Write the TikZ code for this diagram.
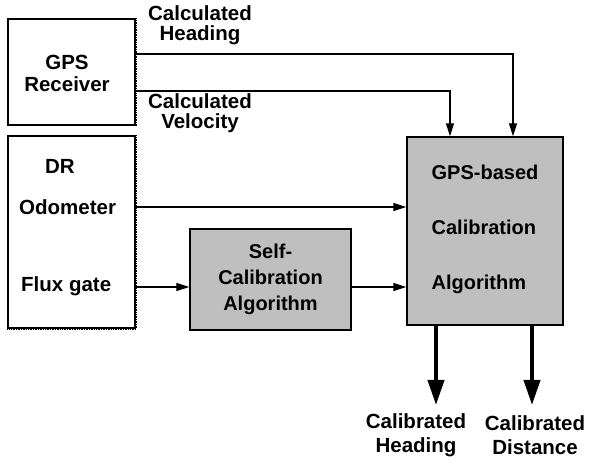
\documentclass[tikz,border=0pt]{standalone}
\usepackage{fontspec}
\setmainfont{Liberation Sans}
\usetikzlibrary{arrows.meta,calc}
\begin{document}
\begin{tikzpicture}[x=1pt,y=-1pt,
  lbl/.style={font=\bfseries\fontsize{20.5}{19.5}\selectfont, inner sep=0pt, align=center},
  whitebox/.style={draw, line width=1.2pt, fill=white, inner sep=0pt},
  shadebox/.style={draw, line width=1.4pt, fill=black!25, inner sep=0pt},
  shadowline/.style={line width=3pt, dash pattern=on 1pt off 0.7pt},
  arr/.style={line width=1.1pt, -{Triangle[length=13pt,width=8pt]}},
  bigarr/.style={line width=4pt, -{Triangle[length=25pt,width=16pt]}}
]
\useasboundingbox (0,0) rectangle (590,465);

% boxes
\node[whitebox, minimum width=127pt, minimum height=106pt] (gps) at (71.5,72) {};
\node[whitebox, minimum width=127pt, minimum height=192pt] (dr) at (71.5,232) {};
\draw[shadowline] (gps.north east) -- (gps.south east);
\draw[line width=1.8pt, dash pattern=on 1pt off 0.7pt] (gps.south west) -- (gps.south east);
\draw[shadowline] (dr.north east) -- (dr.south east);
\draw[line width=2pt, dash pattern=on 1pt off 0.7pt] (dr.south west) -- (dr.south east);

\node[shadebox, minimum width=161pt, minimum height=101pt,
      font=\bfseries\fontsize{20}{26}\selectfont, align=center] (self) at (270.5,279.5)
      {Self-\\Calibration\\Algorithm};
\node[shadebox, minimum width=156pt, minimum height=188pt, text depth=8pt,
      font=\bfseries\fontsize{20}{55}\selectfont, align=left] (cal) at (485,231)
      {GPS-based\\Calibration\\Algorithm};

% labels in white boxes
\node[lbl, align=center] (gpsl) at (67,73.5) {GPS\\[3pt]Receiver};
\node[lbl] (drl) at (60,166) {DR};
\node[lbl, anchor=west] (odol) at (19,207) {Odometer};
\node[lbl, anchor=west] (fluxl) at (21,286) {Flux gate};

% signal labels
\node[lbl] (hdl) at (200,25) {Calculated\\Heading};
\node[lbl] (vll) at (200,113) {Calculated\\Velocity};
\node[lbl] (chl) at (416,435) {Calibrated\\[4pt]Heading};
\node[lbl] (cdl) at (535,435) {Calibrated\\[4pt]Distance};

% helper coordinates
\coordinate (hd) at (0,54);
\coordinate (vl) at (0,91);
\coordinate (hx) at (513,0);
\coordinate (vx) at (450,0);
\coordinate (odo) at (0,207);
\coordinate (flx) at (0,287);
\coordinate (o1) at (436,405);
\coordinate (o2) at (532,405);

% connectors
\draw[arr] (gps.east |- hd) -| (cal.north -| hx);
\draw[arr] (gps.east |- vl) -| (cal.north -| vx);
\draw[arr] (dr.east |- odo) -- (cal.west |- odo);
\draw[arr] (dr.east |- flx) -- (self.west |- flx);
\draw[arr] (self.east |- flx) -- (cal.west |- flx);
\draw[bigarr] (cal.south -| o1) -- (o1);
\draw[bigarr] (cal.south -| o2) -- (o2);
\end{tikzpicture}
\end{document}
